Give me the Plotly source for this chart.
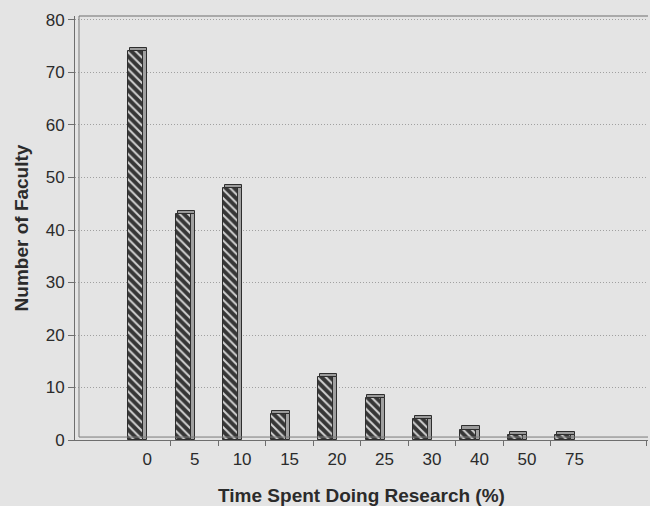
import plotly.graph_objects as go

# Faculty counts by share of working time spent on research
categories = ["0", "5", "10", "15", "20", "25", "30", "40", "50", "75"]
faculty = [74, 43, 48, 5, 12, 8, 4, 2, 1, 1]
y_ticks = [0, 10, 20, 30, 40, 50, 60, 70, 80]

pos = list(range(len(categories)))
bg = "#e4e4e4"
edge = "#2e2e2e"

fig = go.Figure()

# front face of each bar, diagonal hatching
fig.add_trace(go.Bar(
    x=pos, y=faculty, offset=-0.40, width=0.32,
    marker=dict(color="#363636",
                line=dict(color=edge, width=1),
                pattern=dict(shape="\\", fgcolor="#d2d2d2", bgcolor="#363636",
                             size=6, solidity=0.33, fillmode="replace")),
    hoverinfo="x+y", showlegend=False,
))
# right side face (depth)
fig.add_trace(go.Bar(
    x=pos, y=faculty, offset=-0.08, width=0.085,
    marker=dict(color="#a0a0a0", line=dict(color=edge, width=1)),
    hoverinfo="skip", showlegend=False,
))
# top cap
fig.add_trace(go.Bar(
    x=pos, y=[0.6] * len(faculty), base=faculty, offset=-0.36, width=0.365,
    marker=dict(color="#9a9a9a", line=dict(color=edge, width=1)),
    hoverinfo="skip", showlegend=False,
))

font = "Liberation Sans, Arial, Helvetica, sans-serif"

fig.update_layout(
    width=650, height=506,
    margin=dict(l=75, r=2, t=16, b=66),
    paper_bgcolor=bg, plot_bgcolor=bg,
    barmode="overlay", bargap=0,
    font=dict(family=font, size=17, color="#2b2b2b"),
    xaxis=dict(
        range=[-1.52, 10.55],
        tickmode="array", tickvals=pos, ticktext=categories,
        ticks="", showgrid=False, zeroline=False,
        showline=True, linecolor="#6e6e6e", linewidth=1,
        tickfont=dict(size=17), ticklabelstandoff=4,
        minor=dict(tickmode="array",
                   tickvals=[p + 0.5 for p in pos[:-1]] + [10.52],
                   ticks="outside", ticklen=5, tickcolor="#6e6e6e", showgrid=False),
        title=dict(text="<b>Time Spent Doing Research (%)</b>",
                   font=dict(size=19), standoff=21),
    ),
    yaxis=dict(
        range=[0, 80.76],
        tickmode="array", tickvals=y_ticks,
        ticks="outside", ticklen=6, tickcolor="#6e6e6e",
        showgrid=True, gridcolor="#a0a0a0", griddash="1px,2px", gridwidth=1,
        zeroline=False,
        showline=True, linecolor="#6e6e6e", linewidth=1,
        tickfont=dict(size=17),
        title=dict(text="<b>Number of Faculty</b>", font=dict(size=19), standoff=12),
    ),
    shapes=[
        # inner wall line and floor line for the depth effect
        dict(type="line", xref="paper", yref="paper", x0=0.007, x1=0.007, y0=0.007, y1=1,
             line=dict(color="#7a7a7a", width=1)),
        dict(type="line", xref="paper", yref="paper", x0=0.007, x1=1, y0=0.007, y1=0.007,
             line=dict(color="#7a7a7a", width=1)),
        # top edge of the back wall
        dict(type="line", xref="paper", yref="paper", x0=0.007, x1=1, y0=1, y1=1,
             line=dict(color="#6e6e6e", width=1.2)),
    ],
)

fig.write_html("out.html")
